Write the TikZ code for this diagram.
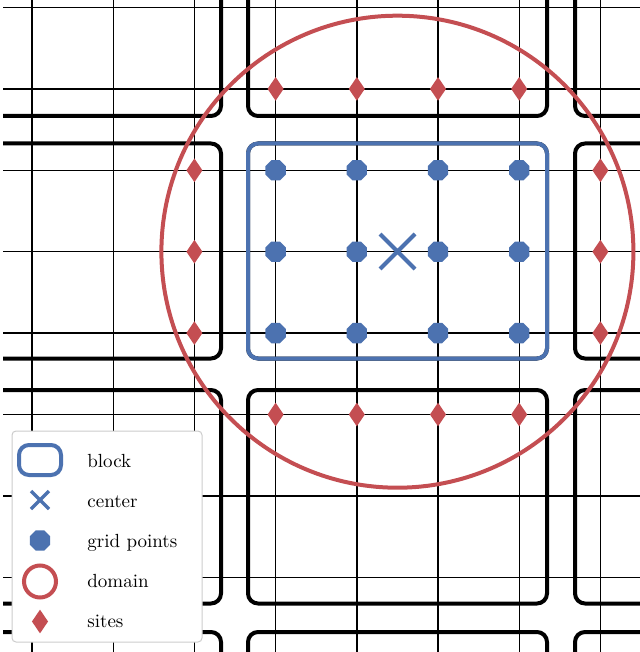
\documentclass[tikz,border=0pt]{standalone}
\usepackage{tikz}
\usetikzlibrary{shapes.geometric}
\definecolor{bdBlue}{HTML}{4C72B0}
\definecolor{bdRed}{HTML}{C44E52}
\definecolor{bdFrame}{HTML}{CCCCCC}
\tikzset{
  gridline/.style={black,line width=0.7pt},
  blockbox/.style={black,line width=2pt,rounded corners=5pt},
  sitemark/.style={diamond,fill=bdRed,inner sep=0pt,
    minimum width=8.2pt,minimum height=12pt},
  gridmark/.style={regular polygon,regular polygon sides=8,
    fill=bdBlue,inner sep=0pt,minimum size=11pt},
  legtext/.style={anchor=base west,inner sep=0pt}
}
\begin{document}
\begin{tikzpicture}[x=0.5pt,y=-0.5pt,font=\fontsize{9.5}{11}\selectfont]
  \useasboundingbox (0,0) rectangle (640,652);

  \begin{scope}
    \clip (3,0) rectangle (640,652);
    % grid lines
    \foreach \i in {0,...,7} {
      \draw[gridline] ({32+81.2*\i},0) -- ({32+81.2*\i},652);
      \draw[gridline] (3,{7.5+81.4*\i}) -- (640,{7.5+81.4*\i});
    }
    % blocks
    \foreach \ya/\yb in {-98/116,143.5/358.5,390/603.5,632/846}
      \foreach \xa/\xb in {-78/221,248/547,575/874}
        \draw[blockbox] (\xa,\ya) rectangle (\xb,\yb);
  \end{scope}

  % the block, its domain and its center
  \draw[bdBlue,line width=2pt,rounded corners=5pt]
    (248,143.5) rectangle (547,358.5);
  \draw[bdRed,line width=2pt] (397.4,251.7) circle[radius=118pt];
  \draw[bdBlue,line width=2pt]
    (380,234) -- (415,269) (380,269) -- (415,234);

  % grid points
  \foreach \i in {0,...,3}
    \foreach \j in {0,...,2}
      \node[gridmark] (g-\i-\j) at ({275.6+81.2*\i},{170.3+81.4*\j}) {};

  % sites
  \foreach \i in {0,...,3} {
    \node[sitemark] (st-\i) at ({275.6+81.2*\i},88.9) {};
    \node[sitemark] (sb-\i) at ({275.6+81.2*\i},414.5) {};
  }
  \foreach \j in {0,...,2} {
    \node[sitemark] (sl-\j) at (194.4,{170.3+81.4*\j}) {};
    \node[sitemark] (sr-\j) at (600.4,{170.3+81.4*\j}) {};
  }

  % legend
  \draw[bdFrame,fill=white,rounded corners=2pt,line width=0.5pt]
    (12,431) rectangle (202,642);
  \draw[bdBlue,line width=2pt,rounded corners=5pt]
    (19,445) rectangle (61,475);
  \node[legtext] (l-block) at (87,467) {block};
  \draw[bdBlue,line width=1.6pt]
    (31,491) -- (49,509) (31,509) -- (49,491);
  \node[legtext] (l-center) at (87,507) {center};
  \node[gridmark] (l-mark) at (40,540.5) {};
  \node[legtext] (l-grid) at (87,547) {grid points};
  \draw[bdRed,line width=2pt] (40,581.5) circle[radius=8pt];
  \node[legtext] (l-domain) at (87,587) {domain};
  \node[sitemark] (l-site) at (40,621.5) {};
  \node[legtext] (l-sites) at (87,627) {sites};
\end{tikzpicture}
\end{document}
